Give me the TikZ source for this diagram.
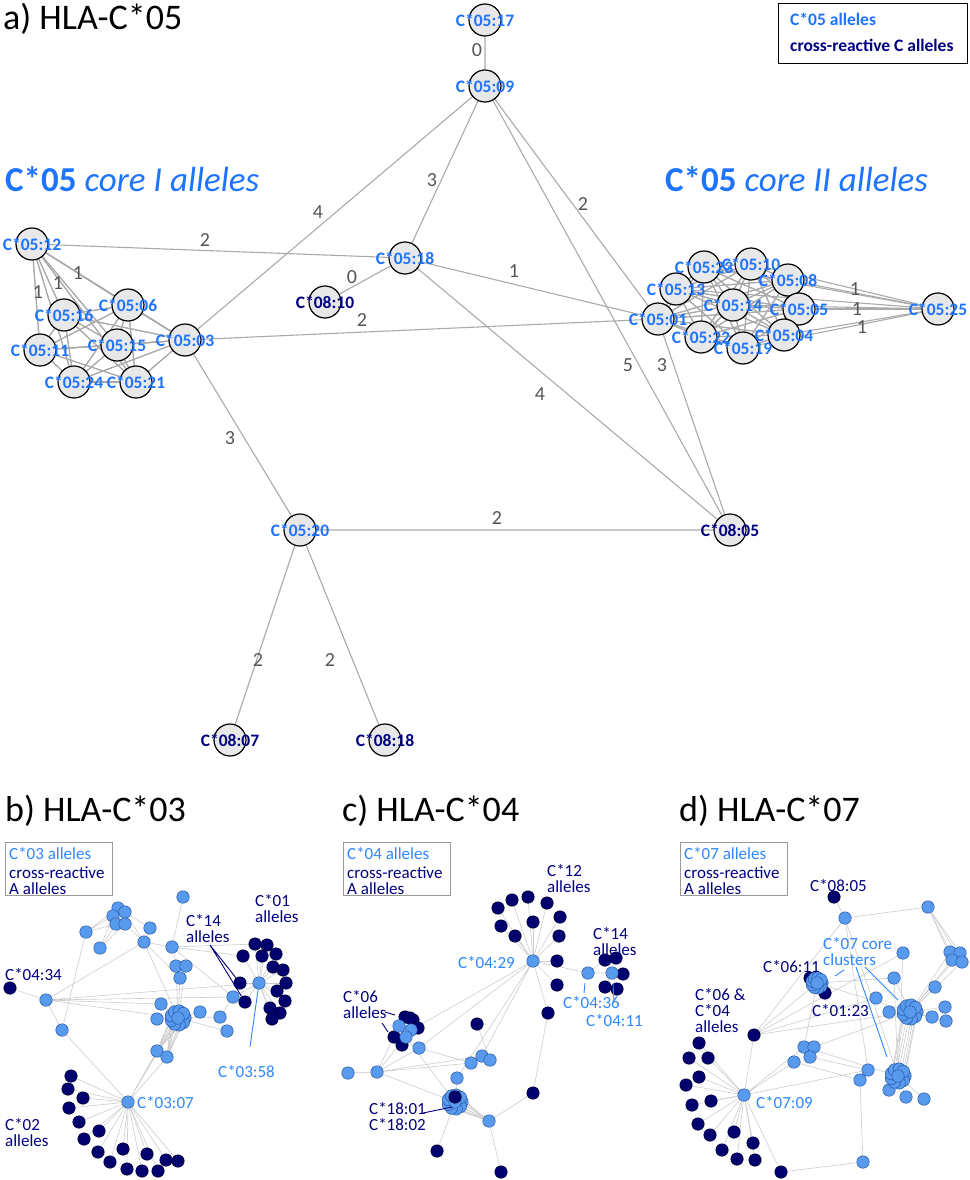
\documentclass[tikz,border=0pt]{standalone}
\usepackage{fontspec}
\setmainfont{Carlito}
\usetikzlibrary{calc}
\pgfdeclarelayer{bg}
\pgfsetlayers{bg,main}
\definecolor{cblue}{RGB}{30,115,255}
\definecolor{lblue}{RGB}{45,135,255}
\definecolor{navy}{RGB}{0,0,128}
\definecolor{dotblue}{RGB}{88,155,238}
\definecolor{dotblueb}{RGB}{40,85,160}
\definecolor{dotnavy}{RGB}{0,0,110}
\definecolor{edgeA}{RGB}{170,170,170}
\definecolor{edgeB}{RGB}{205,205,205}
\definecolor{elabc}{RGB}{85,85,85}
\newcommand\clus[4]{%
  \coordinate (#1) at (#2,#3);
  \foreach \a [count=\k] in {0,40,...,320} {\node[ldot] (#1-\k) at ($(#1)+(\a:#4)$) {};}
  \node[ldot] (#1-c) at (#1) {};
}
\begin{document}
\begin{tikzpicture}[x=1pt,y=-1pt,
  anode/.style={circle, draw=black, line width=1.2pt, fill=gray!18, minimum size=32, inner sep=0},
  atext/.style={font=\fontsize{17.5}{17}\selectfont\bfseries, inner sep=0},
  elab/.style={font=\fontsize{20}{20}\selectfont, text=elabc, inner sep=0},
  ea/.style={draw=edgeA, line width=1.1pt},
  eb/.style={draw=edgeB, line width=0.6pt},
  ldot/.style={circle, draw=dotblueb, line width=0.5pt, fill=dotblue, minimum size=12.5, inner sep=0},
  ndot/.style={circle, draw=black!60!dotnavy, line width=0.5pt, fill=dotnavy, minimum size=12.5, inner sep=0},
  ptext/.style={font=\fontsize{17}{16}\selectfont, inner sep=0, align=left},
  title/.style={font=\fontsize{36}{36}\selectfont, inner sep=0, anchor=base west},
  legbox/.style={draw=gray!80, line width=0.8pt, minimum width=107, minimum height=53, anchor=north west, inner sep=0},
  anno/.style={line width=0.9pt}
]
\useasboundingbox (0,0) rectangle (969,1180);

% ================= panel a =================
\node[title] (ta) at (3,30) {a) HLA-C*05};
\node[anchor=base west, inner sep=0, font=\fontsize{35}{35}\selectfont, text=cblue] (core1) at (5,191) {\textbf{C*05} \textit{core I alleles}};
\node[anchor=base west, inner sep=0, font=\fontsize{35}{35}\selectfont, text=cblue] (core2) at (665,191) {\textbf{C*05} \textit{core II alleles}};
\node[draw=black, line width=1.1pt, minimum width=189, minimum height=60, anchor=north west, inner sep=0] (lega) at (778,3) {};
\node[atext, text=cblue, anchor=base west] (lega1) at (790,26) {C*05 alleles};
\node[atext, text=navy, anchor=base west] (lega2) at (790,52) {cross-reactive C alleles};

\foreach \n/\x/\y in {a17/485/20, a09/485/86, a18/405/258, a810/325/302,
  a12/32/244, a06/128/305, a16/64/315, a11/40/350, a15/117/345, a03/185/340, a24/74/382, a21/136/382,
  a23/704/267, a10/751/264, a13/676/289, a08/788/280, a14/733/305, a05/799/309, a01/658/319,
  a22/701/337, a04/784/335, a19/743/348, a25/938/309,
  a20/300/530, a805/730/530, a807/230/740, a818/385/740}
  \node[anode] (\n) at (\x,\y) {};

\foreach \n/\t in {a17/17, a09/09, a18/18, a12/12, a06/06, a16/16, a11/11, a15/15, a03/03, a24/24, a21/21,
  a23/23, a10/10, a13/13, a08/08, a14/14, a05/05, a01/01, a22/22, a04/04, a19/19, a25/25, a20/20}
  \node[atext, text=cblue] (\n-t) at (\n) {C*05:\t};
\foreach \n/\t in {a810/10, a805/05, a807/07, a818/18}
  \node[atext, text=navy] (\n-t) at (\n) {C*08:\t};

\begin{pgfonlayer}{bg}
  \draw[ea] (a17)--(a09) (a09)--(a03) (a09)--(a18) (a09)--(a01) (a09)--(a805)
    (a01)--(a805) (a18)--(a805) (a18)--(a01) (a18)--(a810) (a12)--(a18)
    (a03)--(a01) (a03)--(a20) (a20)--(a805) (a20)--(a807) (a20)--(a818);
  \foreach \p in {a12,a06,a16,a11,a15,a03,a24,a21}
    \foreach \q in {a12,a06,a16,a11,a15,a03,a24,a21}
      \draw[ea] (\p)--(\q);
  \foreach \p in {a01,a13,a23,a10,a08,a14,a05,a22,a04,a19}
    \foreach \q in {a01,a13,a23,a10,a08,a14,a05,a22,a04,a19}
      \draw[ea] (\p)--(\q);
  \foreach \q in {a08,a05,a04,a10,a14,a23,a19,a13}
    \draw[ea] (a25)--(\q);
\end{pgfonlayer}

\foreach \t/\x/\y [count=\i] in {0/477/50, 3/432/180, 2/583/204, 4/318/212, 2/205/240, 0/352/277,
  1/514/271, 2/362/320, 1/78/273, 1/58/283, 1/38/292, 1/855/289, 1/857/309, 1/862/327,
  5/628/365, 3/662/365, 4/540/394, 3/230/438, 2/497/518, 2/258/660, 2/330/660}
  \node[elab] (el\i) at (\x,\y) {\t};

% ================= panel b =================
\node[title] (tb) at (5,821) {b) HLA-C*03};
\node[legbox] (legb) at (5,842) {};
\node[ptext, text=navy, anchor=north west] (legbt) at (9,847) {\textcolor{lblue}{C*03 alleles}\\[3pt]cross-reactive\\A alleles};

\foreach \n/\x/\y in {b1/183/897, bc1/118/908, bc2/125/912, bc3/113/916, bc4/116/924, bc5/125/924,
  b2/86/932, b3/150/928, b4/100/948, b5/144/942, b6/172/947, b7/176/966, b8/186/966, b9/180/978,
  b10/46/1000, b11/233/997, b12/259/983, b13/161/1004, b14/200/1012, b15/220/1017, b16/157/1019,
  b17/227/1031, b18/62/1030, b19/157/1051, b20/167/1057, b21/128/1102}
  \node[ldot] (\n) at (\x,\y) {};
\clus{bbig}{178}{1018}{7}
\node[ndot] (bn0) at (10,988) {};
\foreach \p [count=\i] in {(255,944),(267,945),(243,956),(262,956),(276,954),(273,967),(283,970),(240,983),
  (286,983),(277,991),(245,1002),(285,1001),(270,1008),(280,1013),(272,1019)}
  \node[ndot] (bA\i) at \p {};
\foreach \p [count=\i] in {(71,1076),(68,1089),(83,1098),(69,1108),(79,1122),(99,1131),(84,1139),(98,1152),
  (123,1149),(147,1154),(166,1160),(178,1161),(110,1162),(127,1169),(142,1171),(158,1171)}
  \node[ndot] (bB\i) at \p {};

\begin{pgfonlayer}{bg}
  \draw[eb] (b1)--(b6) (bc1)--(b2) (bc3)--(b2) (bc4)--(b2) (bc3)--(b4) (bc4)--(b4) (bc5)--(b4)
    (bc2)--(b5) (bc5)--(b5) (bc2)--(b3) (b2)--(b18) (b18)--(b21) (b10)--(bn0) (b10)--(b18) (b10)--(b5)
    (b10)--(b12) (b10)--(b11) (b10)--(bbig) (b10)--(b13) (b3)--(b5) (b5)--(b6) (b5)--(bbig) (b5)--(b9)
    (b6)--(b9) (b6)--(b11) (b6)--(bA3) (b6)--(bA1) (b9)--(bbig) (b7)--(bbig) (b8)--(bbig)
    (b11)--(b12) (b11)--(b15) (b11)--(bA11) (bbig)--(b13) (bbig)--(b14) (bbig)--(b15) (bbig)--(b16)
    (bbig)--(b17) (b21)--(b19) (b21)--(bbig) (b21)--(b20);
  \foreach \i in {1,...,15} \draw[eb] (b12)--(bA\i);
  \foreach \i in {1,...,16} \draw[eb] (b21)--(bB\i);
  \foreach \k in {1,...,9} \draw[eb] (b19)--(bbig-\k) (b20)--(bbig-\k);
\end{pgfonlayer}

\node[ptext, text=navy, anchor=north west] (lb01) at (255,894) {C*01\\alleles};
\node[ptext, text=navy, anchor=north west] (lb14) at (186,914) {C*14\\alleles};
\node[ptext, text=navy, anchor=base west] (lb434) at (5,980) {C*04:34};
\node[ptext, text=lblue, anchor=base west] (lb358) at (218,1077) {C*03:58};
\node[ptext, text=lblue, anchor=base west] (lb307) at (137,1108) {C*03:07};
\node[ptext, text=navy, anchor=north west] (lb02) at (5,1118) {C*02\\alleles};
\coordinate (b14a) at (210,945);
\draw[anno, navy] (b14a)--(bA8) (b14a)--(bA11);
\coordinate (b358a) at (250,1047);
\draw[anno, lblue] (b358a)--(b12);

% ================= panel c =================
\node[title] (tc) at (342,821) {c) HLA-C*04};
\node[legbox] (legc) at (343,842) {};
\node[ptext, text=navy, anchor=north west] (legct) at (347,847) {\textcolor{lblue}{C*04 alleles}\\[3pt]cross-reactive\\A alleles};

\foreach \p [count=\i] in {(498,908),(512,900),(528,897),(547,903),(560,917),(501,926),(515,936),(533,922),
  (559,936),(557,961),(557,985)}
  \node[ndot] (cA\i) at \p {};
\foreach \p [count=\i] in {(605,960),(616,958),(623,974),(605,987),(617,989)}
  \node[ndot] (cB\i) at \p {};
\foreach \p [count=\i] in {(405,1017),(413,1020),(418,1028),(394,1037),(402,1045),(410,1018)}
  \node[ndot] (cC\i) at \p {};
\foreach \n/\x/\y in {cn1/548/1013, cn2/477/1024, cn3/533/1093, cn4/437/1151, cn5/501/1172}
  \node[ndot] (\n) at (\x,\y) {};
\foreach \n/\x/\y in {c429/533/961, c436/588/973, c411/612/973, c6a/399/1026, c6b/411/1030, c6c/406/1037,
  c6d/419/1048, cl1/348/1073, cl2/377/1072, cl3/471/1063, cl4/482/1056, cl5/490/1060, cl6/457/1078, cl7/489/1121}
  \node[ldot] (\n) at (\x,\y) {};
\clus{cbig}{455}{1102}{7}
\node[ndot] (cn18) at (455,1097) {};

\begin{pgfonlayer}{bg}
  \foreach \i in {1,...,11} \draw[eb] (c429)--(cA\i);
  \foreach \i in {1,...,5} \draw[eb] (c411)--(cB\i);
  \draw[eb] (c429)--(c436) (c436)--(c411) (c436)--(cB1) (c429)--(cn1) (cn1)--(cn3) (cn3)--(cl7)
    (c429)--(c6b) (c429)--(c6d) (c429)--(cl4) (c429)--(cl6) (cl1)--(cl2) (cl2)--(c6c) (cl2)--(c6d)
    (cl2)--(cl3) (cl2)--(cbig) (cl2)--(cl4) (c6d)--(cl3) (c6c)--(cbig) (cn2)--(cl5) (cl6)--(cbig)
    (cbig)--(cn4) (cl7)--(cn5) (c6a)--(cl2);
  \foreach \k in {1,...,9} \draw[eb] (cl7)--(cbig-\k);
\end{pgfonlayer}

\node[ptext, text=navy, anchor=north west] (lc12) at (547,864) {C*12\\alleles};
\node[ptext, text=navy, anchor=north west] (lc14) at (593,927) {C*14\\alleles};
\node[ptext, text=lblue, anchor=base west] (lc429) at (458,968) {C*04:29};
\node[ptext, text=lblue, anchor=base west] (lc436) at (563,1008) {C*04:36};
\node[ptext, text=lblue, anchor=base west] (lc411) at (586,1026) {C*04:11};
\node[ptext, text=navy, anchor=north west] (lc06) at (343,990) {C*06\\alleles};
\node[ptext, text=navy, anchor=north west] (lc18) at (369,1102) {C*18:01\\C*18:02};
\coordinate (c436a) at (585,983); \coordinate (c436b) at (584,993);
\coordinate (c411a) at (613,983); \coordinate (c411b) at (614,1002);
\draw[anno, lblue] (c436a)--(c436b) (c411a)--(c411b);
\coordinate (c06a) at (385,1012); \coordinate (c06b) at (395,1015);
\coordinate (c06c) at (382,1023); \coordinate (c06d) at (388,1032);
\coordinate (c18a) at (423,1113); \coordinate (c18b) at (452,1107);
\draw[anno, navy] (c06a)--(c06b) (c06c)--(c06d) (c18a)--(c18b);

% ================= panel d =================
\node[title] (td) at (679,821) {d) HLA-C*07};
\node[legbox] (legd) at (680,842) {};
\node[ptext, text=navy, anchor=north west] (legdt) at (684,847) {\textcolor{lblue}{C*07 alleles}\\[3pt]cross-reactive\\A alleles};

\node[ndot] (dn805) at (834,897) {};
\node[ndot] (dn1) at (754,1035) {};
\node[ndot] (dn611) at (810,978) {};
\node[ndot] (dn123) at (825,993) {};
\foreach \p [count=\i] in {(699,1043),(689,1058),(708,1058),(699,1077),(686,1085),(711,1101),(692,1105),
  (698,1124),(710,1135),(734,1132),(753,1143),(722,1150),(737,1159),(755,1160),(781,1172)}
  \node[ndot] (dA\i) at \p {};
\foreach \n/\x/\y in {d1/845/918, d2/928/907, dc1/950/952, dc2/960/953, dc3/952/960, dc4/962/962,
  d3/903/953, d4/894/978, d5/935/987, d6/876/998, d7/889/1012, d8/945/1007, d9/932/1017, d10/946/1021,
  d11/804/1047, d12/814/1047, d13/810/1057, d14/794/1062, d15/868/1070, d16/860/1080,
  d17/889/1090, d18/906/1097, d19/924/1099, d709/744/1095, d20/863/1162}
  \node[ldot] (\n) at (\x,\y) {};
\clus{d611}{817}{983}{5}
\clus{dbig1}{910}{1012}{7}
\clus{dbig2}{898}{1076}{7}

\begin{pgfonlayer}{bg}
  \foreach \i in {1,...,15} \draw[eb] (d709)--(dA\i);
  \draw[eb] (d709)--(dn1) (dn1)--(d611) (dn1)--(d1) (dn1)--(d6) (dn1)--(dbig1) (dn1)--(d3)
    (d709)--(d14) (d709)--(d15) (d709)--(d11) (dA15)--(d20) (d20)--(d16)
    (d1)--(d2) (d1)--(dn805) (d1)--(dbig2) (d1)--(d15) (d3)--(dbig2) (d4)--(dbig2) (d4)--(dbig1)
    (d611)--(dbig1) (d611)--(d4) (d611)--(d11) (d11)--(dbig2) (d14)--(d16) (d7)--(dbig1)
    (d8)--(dbig1) (d9)--(dbig1) (d10)--(dbig1) (d17)--(dbig2) (d18)--(dbig2) (d19)--(dbig2)
    (d5)--(dbig1) (d12)--(dbig1) (d13)--(d15);
  \foreach \q in {dc1,dc2,dc3,dc4} \draw[eb] (d2)--(\q) (dbig1)--(\q);
  \foreach \k in {1,...,9} \draw[eb] (dbig1-\k)--(dbig2-\k);
\end{pgfonlayer}

\node[ptext, text=navy, anchor=base west] (ld805) at (810,891) {C*08:05};
\node[ptext, text=lblue, anchor=north west] (ldcore) at (823,937) {C*07 core\\clusters};
\node[ptext, text=navy, anchor=base west] (ld611) at (763,972) {C*06:11};
\node[ptext, text=navy, anchor=base west] (ld123) at (812,1016) {C*01:23};
\node[ptext, text=navy, anchor=north west] (ld06) at (695,988) {C*06 \&\\C*04\\alleles};
\node[ptext, text=lblue, anchor=base west] (ld709) at (756,1108) {C*07:09};
\coordinate (dca) at (844,970); \coordinate (dcb) at (835,976);
\coordinate (dcc) at (856,967); \coordinate (dcd) at (887,1057);
\coordinate (dce) at (865,967); \coordinate (dcf) at (898,1000);
\draw[anno, lblue] (dca)--(dcb) (dcc)--(dcd) (dce)--(dcf);
\end{tikzpicture}
\end{document}
